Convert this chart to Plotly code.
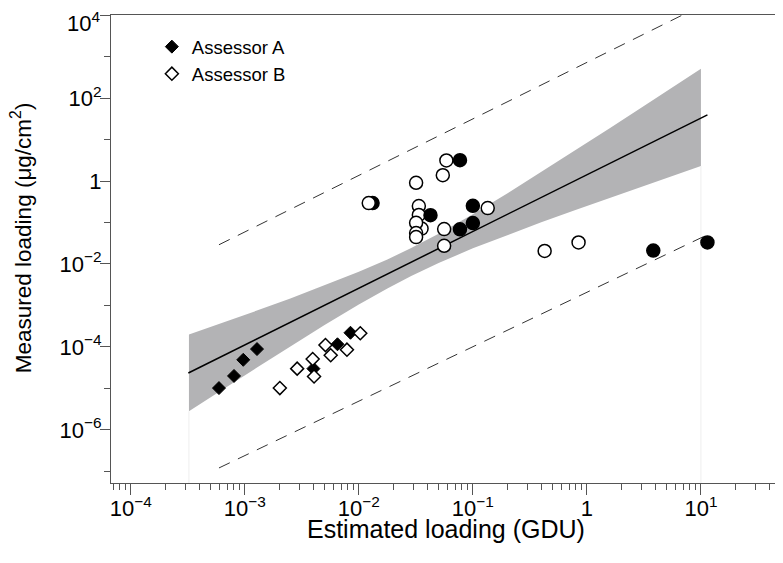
import plotly.graph_objects as go

# ---------------- data ----------------
# Assessor A: filled diamonds
a_diam_x = [5.94e-4, 8.05e-4, 9.7e-4, 1.28e-3, 4.0e-3, 6.5e-3, 8.45e-3]
a_diam_y = [1.02e-5, 2.0e-5, 4.9e-5, 8.9e-5, 3.0e-5, 1.16e-4, 2.2e-4]
# Assessor B: open diamonds
b_diam_x = [2.03e-3, 2.88e-3, 3.94e-3, 4.05e-3, 5.1e-3, 5.67e-3, 7.87e-3, 1.03e-2]
b_diam_y = [1.02e-5, 3.0e-5, 5.1e-5, 1.94e-5, 1.11e-4, 6.3e-5, 8.6e-5, 2.14e-4]
# filled circles (first one sits behind an open circle)
a_circ_x = [0.0132, 0.0771, 0.0425, 0.1, 0.0771, 0.1, 3.82, 11.4]
a_circ_y = [0.294, 3.18, 0.150, 0.253, 0.0684, 0.097, 0.0211, 0.033]
# open circles
b_circ_x = [0.0586, 0.0545, 0.0318, 0.01222, 0.0336, 0.0336, 0.135, 0.0355,
            0.0318, 0.0318, 0.0318, 0.056, 0.056, 0.426, 0.845]
b_circ_y = [3.13, 1.38, 0.908, 0.294, 0.249, 0.152, 0.223, 0.0715,
            0.0986, 0.0557, 0.0446, 0.0695, 0.0275, 0.0206, 0.033]

# fitted line
fit_x = [3.2e-4, 11.4]
fit_y = [2.35e-5, 39.5]
# prediction interval (dashed)
pi_x = [5.94e-4, 11.4]
pi_upper = [2.91e-2, 2.0e4]
pi_lower = [1.21e-7, 5.07e-2]
# confidence band edges
band_x = [3.24e-4, 6.31e-4, 1.26e-3, 2.51e-3, 5.01e-3, 0.01, 0.0178, 0.0288,
          0.0501, 0.1, 0.2, 0.398, 0.794, 1.585, 3.16, 5.62, 10.0]
band_upper = [2.0e-4, 3.78e-4, 7.43e-4, 1.48e-3, 3.03e-3, 6.46e-3, 1.285e-2, 2.43e-2,
              5.37e-2, 0.159, 0.502, 1.65, 5.53, 18.8, 64.6, 180.7, 508.0]
band_lower = [2.81e-6, 9.19e-6, 3.11e-5, 1.04e-4, 3.38e-4, 1.06e-3, 2.58e-3, 5.14e-3,
              1.057e-2, 2.38e-2, 0.05, 0.1014, 0.201, 0.394, 0.766, 1.327, 2.29]

x_tick_vals = [1e-4, 1e-3, 1e-2, 1e-1, 1, 10]
x_tick_text = ["10<sup>−4</sup>", "10<sup>−3</sup>", "10<sup>−2</sup>",
               "10<sup>−1</sup>", "1", "10<sup>1</sup>"]
y_tick_vals = [1e-6, 1e-4, 1e-2, 1, 1e2, 1e4]
y_tick_text = ["10<sup>−6</sup>", "10<sup>−4</sup>", "10<sup>−2</sup>",
               "1", "10<sup>2</sup>", "10<sup>4</sup>"]
y_minor_vals = [1e-7, 1e-5, 1e-3, 1e-1, 1e1, 1e3]

x_range_log = [-4.173, 1.702]
y_range_log = [-7.28, 4.003]

x_minor_vals = [m * 10.0 ** e for e in range(-5, 2) for m in range(2, 10)]

# the top tick label sits at the page edge: it is drawn as an annotation
# nudged slightly down so it is not clipped
top_label = y_tick_text[-1]
axis_y_text = y_tick_text[:-1] + [""]

AX = "#555555"
fig = go.Figure()

# confidence band
fig.add_trace(go.Scatter(
    x=band_x + band_x[::-1], y=band_upper + band_lower[::-1],
    fill="toself", fillcolor="#b3b3b5", mode="lines", line=dict(width=0),
    hoverinfo="skip", showlegend=False))
# faint edges of the band polygon down to the axis
y_bottom = 10 ** y_range_log[0]
for xe, ye in [(band_x[0], band_lower[0]), (band_x[-1], band_lower[-1])]:
    fig.add_trace(go.Scatter(x=[xe, xe], y=[ye, y_bottom], mode="lines",
                             line=dict(color="#eeeeee", width=1),
                             hoverinfo="skip", showlegend=False))

# prediction interval
for yy in (pi_upper, pi_lower):
    fig.add_trace(go.Scatter(x=pi_x, y=yy, mode="lines",
                             line=dict(color="#333333", width=1, dash="12px,9px"),
                             hoverinfo="skip", showlegend=False))
# regression line
fig.add_trace(go.Scatter(x=fit_x, y=fit_y, mode="lines",
                         line=dict(color="black", width=1.5),
                         hoverinfo="skip", showlegend=False))

# circles
circ_filled = dict(symbol="circle", size=13, color="black",
                   line=dict(color="black", width=1.5))
fig.add_trace(go.Scatter(x=a_circ_x[:1], y=a_circ_y[:1], mode="markers",
                         marker=circ_filled, showlegend=False))
fig.add_trace(go.Scatter(x=b_circ_x, y=b_circ_y, mode="markers",
                         marker=dict(symbol="circle", size=13, color="white",
                                     line=dict(color="black", width=1.5)),
                         showlegend=False))
fig.add_trace(go.Scatter(x=a_circ_x[1:], y=a_circ_y[1:], mode="markers",
                         marker=circ_filled, showlegend=False))
# diamonds
fig.add_trace(go.Scatter(x=a_diam_x, y=a_diam_y, mode="markers", name="Assessor A",
                         marker=dict(symbol="diamond", size=10, color="black",
                                     line=dict(color="black", width=1))))
fig.add_trace(go.Scatter(x=b_diam_x, y=b_diam_y, mode="markers", name="Assessor B",
                         marker=dict(symbol="diamond", size=10, color="white",
                                     line=dict(color="black", width=1.5))))

fig.update_layout(
    width=775, height=555,
    margin=dict(l=103, r=2, t=7, b=80, autoexpand=False),
    plot_bgcolor="white", paper_bgcolor="white",
    font=dict(family="Liberation Sans, Arial, sans-serif", color="black"),
    legend=dict(x=0.061, y=0.972, xanchor="left", yanchor="top",
                bgcolor="rgba(0,0,0,0)", font=dict(size=18.5),
                itemwidth=30, tracegroupgap=0),
    annotations=[
        dict(text="Estimated loading (GDU)", xref="paper", yref="paper",
             x=0.5, y=-0.0983, xanchor="center", yanchor="middle",
             showarrow=False, font=dict(size=25)),
        dict(text="Measured loading (μg/cm<sup>2</sup>)", xref="paper", yref="paper",
             x=-0.134, y=0.5235, xanchor="center", yanchor="middle",
             textangle=-90, showarrow=False, font=dict(size=22.5)),
        dict(text=top_label, xref="paper", yref="y", x=0, y=y_range_log[1] - 0.003,
             xanchor="right", yanchor="middle", xshift=-9, yshift=-7,
             showarrow=False, font=dict(size=22)),
    ],
)
fig.update_xaxes(
    type="log", range=x_range_log, showgrid=False, zeroline=False,
    automargin=False,
    showline=True, linecolor=AX, linewidth=1, mirror=True,
    ticks="outside", ticklen=11, tickcolor=AX, ticklabelstandoff=-5,
    ticklabeloverflow="allow",
    tickmode="array", tickvals=x_tick_vals, ticktext=x_tick_text,
    tickfont=dict(size=22),
    minor=dict(tickmode="array", tickvals=x_minor_vals, ticks="outside",
               ticklen=6, tickcolor=AX, showgrid=False),
)
fig.update_yaxes(
    type="log", range=y_range_log, showgrid=False, zeroline=False,
    automargin=False,
    showline=True, linecolor=AX, linewidth=1, mirror=True,
    ticks="outside", ticklen=10, tickcolor=AX, ticklabelstandoff=-6,
    ticklabeloverflow="allow",
    tickmode="array", tickvals=y_tick_vals, ticktext=axis_y_text,
    tickfont=dict(size=22),
    minor=dict(tickmode="array", tickvals=y_minor_vals, ticks="outside",
               ticklen=6, tickcolor=AX, showgrid=False),
)

fig.write_html("out.html")
